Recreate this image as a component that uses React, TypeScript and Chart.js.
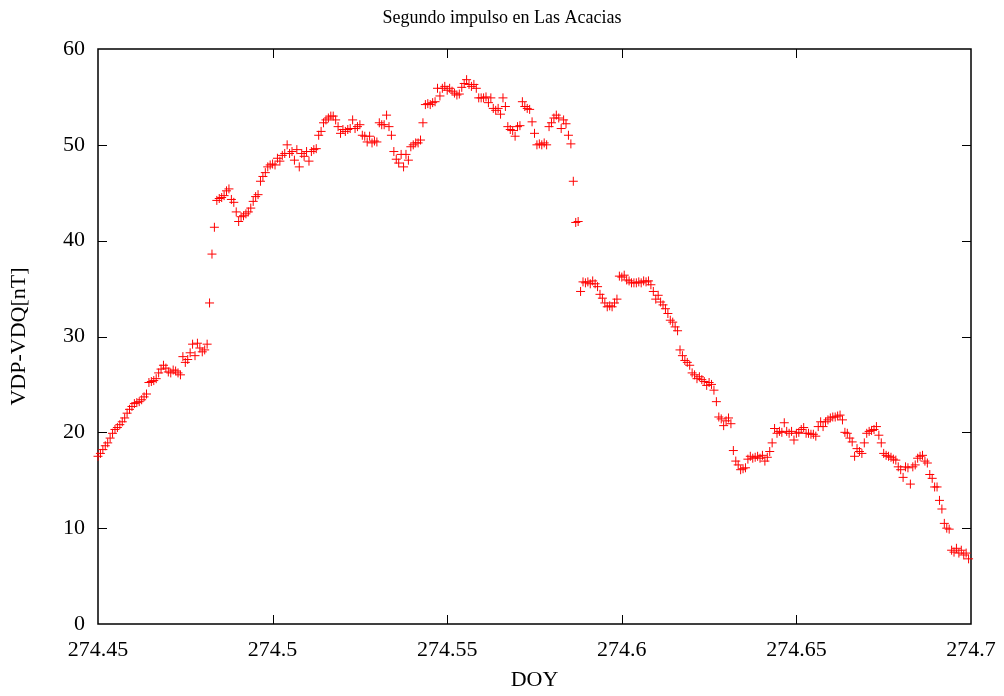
import { useEffect, useRef } from 'react';
import { Chart, registerables } from 'chart.js';

Chart.register(...registerables);

// One-minute magnetometer samples (VDP - VDQ, nT) starting at DOY 274.45
const START_DOY = 274.45;
const MINUTES_PER_DAY = 1440;

const earlyRise = [
  17.5, 17.8, 18.2, 18.6, 18.9, 19.4, 19.9, 20.3, 20.5, 20.8,
  21.1, 21.5, 22.0, 22.4, 22.7, 23.0, 23.1, 23.2, 23.4, 23.7,
  24.0, 25.2, 25.3, 25.4, 25.6, 26.2, 26.6, 27.0, 26.7, 26.3,
  26.2, 26.5, 26.4, 26.2, 26.0, 27.9, 27.3, 27.6, 28.3, 29.2,
  28.0, 29.3, 28.8, 28.4, 28.6, 29.2, 33.5, 38.6, 41.4, 44.2,
];

const firstHump = [
  44.4, 44.5, 44.7, 45.2, 45.4, 44.3, 44.0, 43.0, 42.0, 42.5,
  42.6, 42.8, 43.0, 43.4, 44.1, 44.6, 44.8, 46.2, 46.7, 47.1,
  47.7, 47.9, 48.0, 47.9, 48.6, 48.3, 48.9, 49.1, 50.0, 49.1,
  49.3, 48.4, 49.5, 47.7, 49.1, 48.8, 49.3, 48.3, 49.3, 49.5,
  49.6, 51.0, 51.4, 52.3, 52.6, 52.8, 53.0, 53.0, 52.6, 51.9,
  51.2,
];

const mainPeak = [
  51.6, 51.4, 51.6, 51.7, 52.6, 51.7, 51.9, 52.1, 51.0, 50.9,
  50.3, 50.9, 50.2, 50.4, 50.3, 52.3, 52.1, 52.1, 53.1, 51.9,
  51.0, 49.3, 48.5, 48.1, 49.0, 47.7, 49.0, 48.4, 49.8, 50.0,
  50.2, 50.2, 50.5, 52.3, 54.2, 54.3, 54.2, 54.4, 54.5, 55.9,
  55.1, 55.9, 56.1, 55.7, 55.9, 55.6, 55.4, 55.2, 55.3, 56.0,
  56.4, 56.8, 56.3,
];

const peakDecline = [
  56.1, 56.3, 55.9, 54.9, 54.9, 54.9, 55.0, 54.4, 54.9, 53.8,
  53.6, 53.8, 53.2, 54.9, 54.0, 51.9, 51.6, 51.5, 50.9, 51.9,
  52.0, 54.5, 54.0, 53.8, 53.7, 52.4, 51.2, 50.0, 50.1, 50.0,
  50.2, 50.0, 51.9, 52.3, 52.8, 53.1, 52.8, 51.7, 52.6, 52.2,
  51.0, 50.1, 46.2, 41.9, 42.0, 34.7, 35.7,
];

const recoveryStep = [
  35.6, 35.7, 35.5, 35.8, 35.5, 35.2, 34.4, 34.0, 33.5, 33.1,
  33.2, 33.1, 33.5, 33.9, 36.3, 36.2, 36.4, 35.9, 35.8, 35.6,
  35.6, 35.6, 35.7, 35.6, 35.8, 35.7, 35.8, 35.4, 34.7, 33.9,
  34.3, 33.6, 33.3, 32.9, 32.4, 31.7, 31.5, 31.0, 30.6, 28.6,
  28.0, 27.5, 27.3, 27.0, 26.2, 26.0, 25.6, 25.8, 25.5, 25.3,
  24.9, 25.2, 25.0, 24.4, 23.2, 21.6, 21.4, 20.7, 21.2, 21.5,
  20.9,
];

const lateDecay = [
  18.1, 17.0, 16.6, 16.1, 16.2, 16.3, 17.2, 17.5, 17.3, 17.4,
  17.5, 17.3, 17.6, 17.0, 17.4, 18.0, 18.9, 20.4, 19.9, 20.1,
  20.0, 21.0, 20.1, 19.9, 20.1, 19.2, 19.9, 20.0, 20.3, 20.5,
  19.9, 19.9, 19.8, 19.8, 19.6, 20.6, 21.1, 20.6, 21.1, 21.3,
  21.5, 21.6, 21.6, 21.7, 21.8, 21.3, 20.0, 19.9, 19.4, 19.0,
  17.5, 18.3, 18.0, 17.8, 18.9, 19.9, 20.1, 20.2, 20.3, 20.6,
  19.7, 18.9, 17.8, 17.6, 17.5, 17.4, 17.2, 17.1, 16.4, 16.1,
  15.3, 16.4, 16.3, 14.6, 16.4, 16.6, 17.3, 17.5, 17.6, 17.0,
  16.8, 15.6, 15.2, 14.3, 14.3, 12.9, 12.0, 10.5, 10.0, 9.9,
  7.7, 7.5, 7.9, 7.4, 7.7, 7.2, 7.4, 6.8,
];

const X_MIN = 274.45;
const X_MAX = 274.7;
const X_STEP = 0.05;
const Y_MIN = 0;
const Y_MAX = 60;
const Y_STEP = 10;

const TITLE = 'Segundo impulso en Las Acacias';
const X_TITLE = 'DOY';
const Y_TITLE = 'VDP-VDQ[nT]';

const FONT = '"Liberation Serif", "Times New Roman", Times, serif';

const allValues = [
  ...earlyRise,
  ...firstHump,
  ...mainPeak,
  ...peakDecline,
  ...recoveryStep,
  ...lateDecay,
];

const points = allValues.map((v, i) => ({ x: START_DOY + i / MINUTES_PER_DAY, y: v }));

// gnuplot-style box with inward tick marks on all four sides, plus a page-centred title
const framePlugin = {
  id: 'gnuplotFrame',
  beforeDatasetsDraw(chart: any) {
    const { ctx, chartArea, scales } = chart;
    const { left, right, top, bottom } = chartArea;
    const len = 9;
    ctx.save();
    ctx.strokeStyle = '#000';
    ctx.lineWidth = 1;
    ctx.beginPath();
    scales.y.ticks.forEach((t: any) => {
      if (t.value <= Y_MIN || t.value >= Y_MAX) return;
      const py = Math.round(scales.y.getPixelForValue(t.value)) + 0.5;
      ctx.moveTo(left, py);
      ctx.lineTo(left + len, py);
      ctx.moveTo(right, py);
      ctx.lineTo(right - len, py);
    });
    scales.x.ticks.forEach((t: any) => {
      if (t.value <= X_MIN + 1e-9 || t.value >= X_MAX - 1e-9) return;
      const px = Math.round(scales.x.getPixelForValue(t.value)) + 0.5;
      ctx.moveTo(px, bottom);
      ctx.lineTo(px, bottom - len);
      ctx.moveTo(px, top);
      ctx.lineTo(px, top + len);
    });
    ctx.stroke();
    ctx.lineWidth = 1.5;
    ctx.strokeRect(left, top, right - left, bottom - top);

    ctx.fillStyle = '#000';
    ctx.font = `18px ${FONT}`;
    ctx.textAlign = 'center';
    ctx.textBaseline = 'middle';
    ctx.fillText(TITLE, chart.width / 2, 18);
    ctx.restore();
  },
};

export default function App() {
  const canvasRef = useRef<HTMLCanvasElement | null>(null);

  useEffect(() => {
    const canvas = canvasRef.current;
    if (!canvas) return;
    const chart = new Chart(canvas, {
      type: 'scatter',
      data: {
        datasets: [
          {
            data: points,
            pointStyle: 'cross',
            pointRadius: 4.5,
            pointHoverRadius: 4.5,
            pointBorderWidth: 1,
            borderColor: '#ff0000',
            backgroundColor: '#ff0000',
            showLine: false,
            clip: false,
          },
        ],
      },
      options: {
        responsive: false,
        animation: false,
        devicePixelRatio: 1,
        layout: { padding: { top: 49, right: 33, bottom: 0, left: 0 } },
        plugins: {
          legend: { display: false },
          tooltip: { enabled: false },
          title: { display: false },
        },
        scales: {
          x: {
            type: 'linear',
            min: X_MIN,
            max: X_MAX,
            grid: { display: false },
            border: { display: false },
            afterFit: (scale: any) => {
              scale.height = 72;
            },
            ticks: {
              stepSize: X_STEP,
              color: '#000',
              padding: 5,
              maxRotation: 0,
              font: { family: FONT, size: 22 },
              callback: (v: any) => String(Math.round(Number(v) * 100) / 100),
            },
            title: {
              display: true,
              text: X_TITLE,
              color: '#000',
              font: { family: FONT, size: 22 },
              padding: { top: 0, bottom: 3 },
            },
          },
          y: {
            type: 'linear',
            min: Y_MIN,
            max: Y_MAX,
            grid: { display: false },
            border: { display: false },
            afterFit: (scale: any) => {
              scale.width = 98;
            },
            ticks: {
              stepSize: Y_STEP,
              color: '#000',
              padding: 5,
              font: { family: FONT, size: 22 },
            },
            title: {
              display: true,
              text: Y_TITLE,
              color: '#000',
              font: { family: FONT, size: 22 },
              padding: { top: 6, bottom: 0 },
            },
          },
        },
      },
      plugins: [framePlugin],
    });
    return () => chart.destroy();
  }, []);

  return (
    <div style={{ position: 'fixed', left: 0, top: 0, width: 1004, height: 696, background: '#fff' }}>
      <canvas ref={canvasRef} width={1004} height={696} />
    </div>
  );
}
